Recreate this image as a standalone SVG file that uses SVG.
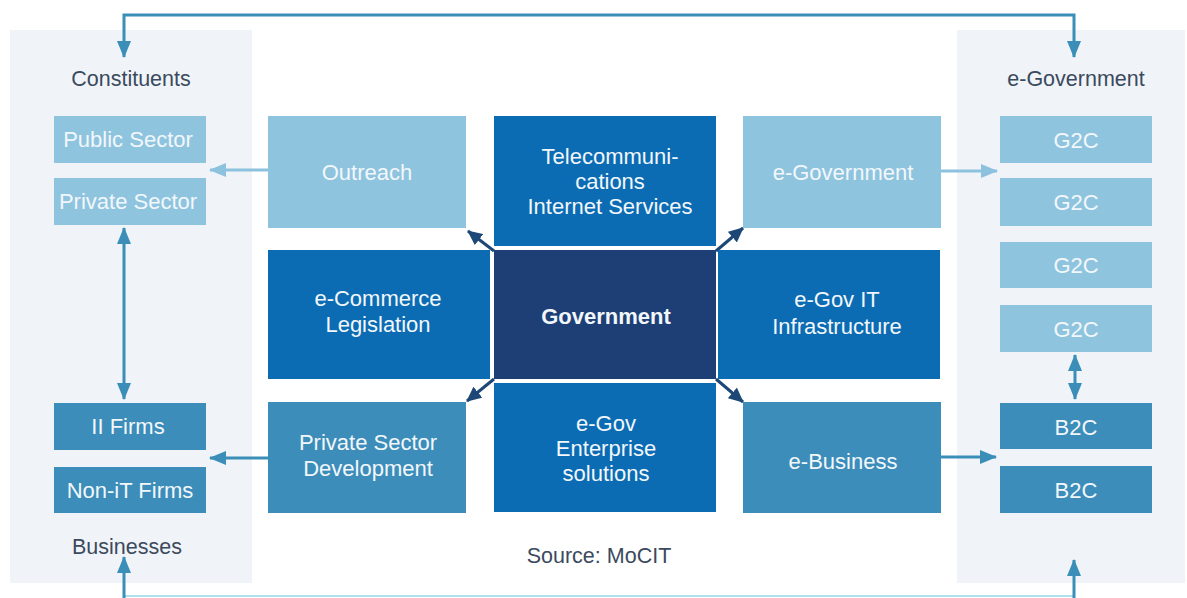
<svg xmlns="http://www.w3.org/2000/svg" width="1187" height="598" viewBox="0 0 1187 598">
<style>
.panel{fill:#f0f4f8}
.light{fill:#8fc4df}
.mid{fill:#3c8dba}
.strong{fill:#0b6cb3}
.navy{fill:#1e3f76}
.bt{font-family:"Liberation Sans",Arial,sans-serif;font-size:22px;fill:#f2f7fb;text-anchor:middle}
.lbl{font-family:"Liberation Sans",Arial,sans-serif;font-size:21.5px;fill:#3b4a5d;text-anchor:middle}
.c{fill:none;stroke-width:3}
.cm{stroke:#3a8eb8}
.cl{stroke:#8cc2dd}
.cn{stroke:#1d4776}
</style>
<defs>
<marker id="am" markerUnits="userSpaceOnUse" markerWidth="18" markerHeight="16" refX="16" refY="8" orient="auto-start-reverse"><path d="M0,1 L17,8 L0,15 Z" fill="#3a8eb8"/></marker>
<marker id="al" markerUnits="userSpaceOnUse" markerWidth="18" markerHeight="16" refX="16" refY="8" orient="auto-start-reverse"><path d="M0,1 L17,8 L0,15 Z" fill="#8cc2dd"/></marker>
<marker id="an" markerUnits="userSpaceOnUse" markerWidth="16" markerHeight="14" refX="14" refY="7" orient="auto"><path d="M0,0 L15,7 L0,14 Z" fill="#1d4776"/></marker>
</defs>
<rect width="1187" height="598" fill="#ffffff"/>
<rect class="panel" x="10" y="30" width="242" height="553"/>
<rect class="panel" x="957" y="30" width="228" height="553"/>

<g id="connectors">
<path class="c cm" d="M124,57 V15 H1074 V57" marker-start="url(#am)" marker-end="url(#am)"/>
<path d="M124,596 H1074" fill="none" stroke="#aee0ee" stroke-width="2"/>
<path class="c cm" d="M124,598 V557" marker-end="url(#am)"/>
<path class="c cm" d="M1074,598 V560" marker-end="url(#am)"/>
<path class="c cl" d="M268,170 H210" marker-end="url(#al)"/>
<path class="c cm" d="M124,228 V399" marker-start="url(#am)" marker-end="url(#am)"/>
<path class="c cm" d="M268,458 H210" marker-end="url(#am)"/>
<path class="c cl" d="M941,171 H997" marker-end="url(#al)"/>
<path class="c cm" d="M941,457 H996" marker-end="url(#am)"/>
<path class="c cm" stroke-width="4" d="M1075,355 V399" marker-start="url(#am)" marker-end="url(#am)"/>
<path class="c cn" d="M494,251 L468,231" marker-end="url(#an)"/>
<path class="c cn" d="M716,251 L743,228" marker-end="url(#an)"/>
<path class="c cn" d="M494,379 L467,401" marker-end="url(#an)"/>
<path class="c cn" d="M716,379 L743,402" marker-end="url(#an)"/>
</g>

<g id="labels">
<text class="lbl" x="131" y="86">Constituents</text>
<text class="lbl" x="127" y="554">Businesses</text>
<text class="lbl" x="1076" y="86">e-Government</text>
<text class="lbl" x="599" y="563">Source: MoCIT</text>
</g>

<g id="public-sector"><rect class="light" x="54" y="116" width="152" height="47"/><text class="bt" x="128" y="147">Public Sector</text></g>
<g id="private-sector"><rect class="light" x="54" y="178" width="152" height="47"/><text class="bt" x="128" y="209">Private Sector</text></g>
<g id="it-firms"><rect class="mid" x="54" y="403" width="152" height="47"/><text class="bt" x="128" y="434">II Firms</text></g>
<g id="non-it-firms"><rect class="mid" x="54" y="467" width="152" height="46"/><text class="bt" x="130" y="498">Non-iT Firms</text></g>

<g id="outreach"><rect class="light" x="268" y="116" width="198" height="112"/><text class="bt" x="367" y="180">Outreach</text></g>
<g id="telecom"><rect class="strong" x="494" y="116" width="222" height="130"/><text class="bt" x="610" y="164">Telecommuni-</text><text class="bt" x="610" y="189">cations</text><text class="bt" x="610" y="214">Internet Services</text></g>
<g id="e-government-box"><rect class="light" x="743" y="116" width="198" height="112"/><text class="bt" x="843" y="180">e-Government</text></g>
<g id="e-commerce"><rect class="strong" x="268" y="250" width="222" height="129"/><text class="bt" x="378" y="306">e-Commerce</text><text class="bt" x="378" y="332">Legislation</text></g>
<g id="government"><rect class="navy" x="494" y="250" width="222" height="129"/><text class="bt" font-weight="bold" x="606" y="324">Government</text></g>
<g id="egov-it"><rect class="strong" x="718" y="250" width="222" height="129"/><text class="bt" x="837" y="307">e-Gov IT</text><text class="bt" x="837" y="334">Infrastructure</text></g>
<g id="private-sector-dev"><rect class="mid" x="268" y="402" width="198" height="111"/><text class="bt" x="368" y="450">Private Sector</text><text class="bt" x="368" y="476">Development</text></g>
<g id="egov-enterprise"><rect class="strong" x="494" y="383" width="222" height="129"/><text class="bt" x="606" y="431">e-Gov</text><text class="bt" x="606" y="456">Enterprise</text><text class="bt" x="606" y="481">solutions</text></g>
<g id="e-business"><rect class="mid" x="743" y="402" width="198" height="111"/><text class="bt" x="843" y="469">e-Business</text></g>

<g id="g2c-1"><rect class="light" x="1000" y="116" width="152" height="47"/><text class="bt" x="1076" y="148">G2C</text></g>
<g id="g2c-2"><rect class="light" x="1000" y="178" width="152" height="48"/><text class="bt" x="1076" y="210">G2C</text></g>
<g id="g2c-3"><rect class="light" x="1000" y="242" width="152" height="46"/><text class="bt" x="1076" y="273">G2C</text></g>
<g id="g2c-4"><rect class="light" x="1000" y="305" width="152" height="47"/><text class="bt" x="1076" y="337">G2C</text></g>
<g id="b2c-1"><rect class="mid" x="1000" y="403" width="152" height="46"/><text class="bt" x="1076" y="435">B2C</text></g>
<g id="b2c-2"><rect class="mid" x="1000" y="466" width="152" height="47"/><text class="bt" x="1076" y="498">B2C</text></g>
</svg>
